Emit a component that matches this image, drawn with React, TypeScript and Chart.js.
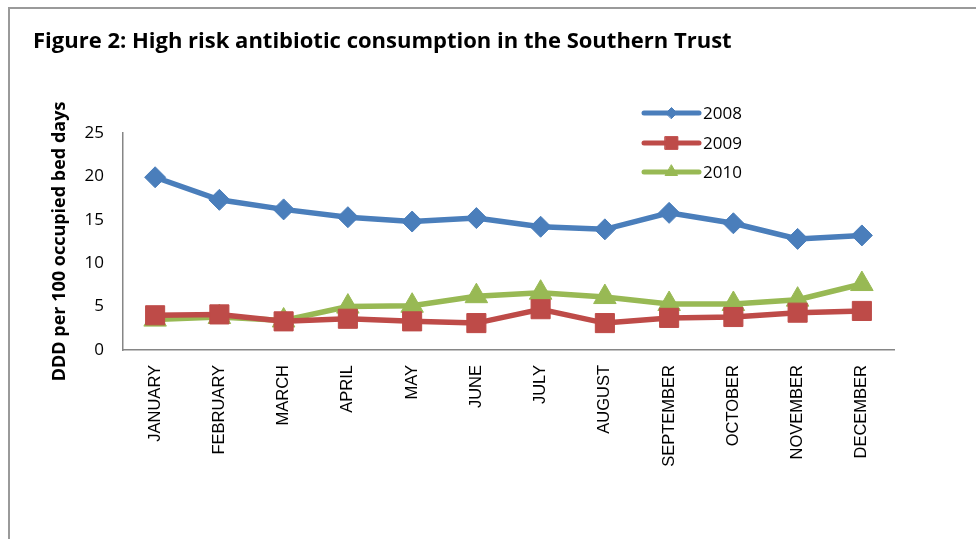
import React, { useEffect, useRef } from 'react';
import { Chart, registerables } from 'chart.js';
import { drawPoint } from 'chart.js/helpers';

Chart.register(...registerables);

const titleText = 'Figure 2: High risk antibiotic consumption in the Southern Trust';
const yAxisTitle = 'DDD per 100 occupied bed days';
const categories = [
  'JANUARY', 'FEBRUARY', 'MARCH', 'APRIL', 'MAY', 'JUNE',
  'JULY', 'AUGUST', 'SEPTEMBER', 'OCTOBER', 'NOVEMBER', 'DECEMBER',
];
const seriesLabels = ['2008', '2009', '2010'];
const values2008 = [19.9, 17.3, 16.2, 15.3, 14.8, 15.2, 14.2, 13.9, 15.8, 14.6, 12.8, 13.2];
const values2009 = [4.0, 4.1, 3.3, 3.6, 3.3, 3.1, 4.7, 3.1, 3.7, 3.8, 4.3, 4.5];
const values2010 = [3.5, 3.8, 3.4, 5.0, 5.1, 6.2, 6.6, 6.1, 5.3, 5.3, 5.8, 7.6];
const yMin = 0;
const yMax = 25;
const yStep = 5;

const colors = ['#4A7EBB', '#BE4B48', '#98B954'];
const pointStyles = ['rectRot', 'rect', 'triangle'];
const pointRadii = [10.5, 13.5, 13];
const legendRadii = [5.5, 9, 7];

const W = 976;
const H = 539;

const titlePlugin = {
  id: 'figTitle',
  afterDraw(chart: any) {
    const ctx = chart.ctx;
    ctx.save();
    ctx.fillStyle = '#000';
    ctx.font = 'bold 22px "Open Sans"';
    ctx.textBaseline = 'alphabetic';
    ctx.textAlign = 'left';
    ctx.fillText(titleText, 33, 48);
    ctx.restore();
  },
};

const legendPlugin = {
  id: 'lineLegend',
  afterDraw(chart: any) {
    const ctx = chart.ctx;
    const x0 = 644;
    const x1 = 699;
    const rows = [113, 143, 172];
    ctx.save();
    chart.data.datasets.forEach((ds: any, i: number) => {
      const y = rows[i];
      ctx.strokeStyle = ds.borderColor;
      ctx.lineWidth = 5;
      ctx.lineCap = 'round';
      ctx.beginPath();
      ctx.moveTo(x0, y);
      ctx.lineTo(x1, y);
      ctx.stroke();
      ctx.fillStyle = ds.borderColor;
      ctx.lineWidth = 1;
      drawPoint(ctx, { pointStyle: ds.pointStyle, radius: legendRadii[i], rotation: 0, borderWidth: 1 } as any, (x0 + x1) / 2, y);
      ctx.fillStyle = '#000';
      ctx.font = '17px "Open Sans"';
      ctx.textAlign = 'left';
      ctx.textBaseline = 'middle';
      ctx.fillText(ds.label, 703, y + 1);
    });
    ctx.restore();
  },
};

export default function App() {
  const canvasRef = useRef<HTMLCanvasElement>(null);

  useEffect(() => {
    if (!canvasRef.current) return;
    const seriesValues = [values2008, values2009, values2010];
    const chart = new Chart(canvasRef.current, {
      type: 'line',
      data: {
        labels: categories,
        datasets: seriesLabels.map((label, i) => ({
          label,
          data: seriesValues[i],
          borderColor: colors[i],
          backgroundColor: colors[i],
          pointBackgroundColor: colors[i],
          pointBorderColor: colors[i],
          pointStyle: pointStyles[i] as any,
          pointRadius: pointRadii[i],
          pointBorderWidth: 1,
          borderWidth: 5.5,
          tension: 0,
          fill: false,
        })),
      },
      options: {
        animation: false,
        responsive: true,
        maintainAspectRatio: false,
        layout: { padding: { top: 133, left: 40, right: 82, bottom: 0 } },
        plugins: {
          legend: { display: false },
          title: { display: false },
          tooltip: { enabled: false },
        },
        scales: {
          x: {
            type: 'category',
            offset: true,
            grid: { display: false, drawTicks: false },
            border: { display: true, color: '#868686', width: 1.5 },
            ticks: {
              autoSkip: false,
              maxRotation: 90,
              minRotation: 90,
              padding: 15,
              color: '#000',
              font: { family: '"Liberation Sans"', size: 16.5 },
            },
            afterFit: (scale: any) => {
              scale.height = H - 350;
            },
          },
          y: {
            min: yMin,
            max: yMax,
            grid: { display: false, drawTicks: false },
            border: { display: true, color: '#868686', width: 1.5 },
            ticks: {
              stepSize: yStep,
              padding: 19,
              color: '#000',
              font: { family: '"Open Sans"', size: 17 },
            },
            title: {
              display: true,
              text: yAxisTitle,
              color: '#000',
              font: { family: '"Open Sans"', size: 18, weight: 'bold' },
              padding: { top: 9, bottom: 0 },
            },
            afterFit: (scale: any) => {
              scale.width = 83;
            },
          },
        },
      },
      plugins: [titlePlugin, legendPlugin],
    });
    return () => chart.destroy();
  }, []);

  return (
    <div style={{ position: 'absolute', left: 0, top: 0, width: W, height: H, overflow: 'hidden', background: '#fff' }}>
      <div
        style={{
          position: 'absolute',
          left: 8,
          top: 7,
          width: 1100,
          height: 700,
          border: '2px solid #9a9a9a',
          boxSizing: 'border-box',
        }}
      />
      <div style={{ position: 'absolute', left: 0, top: 0, width: W, height: H }}>
        <canvas ref={canvasRef} />
      </div>
    </div>
  );
}
